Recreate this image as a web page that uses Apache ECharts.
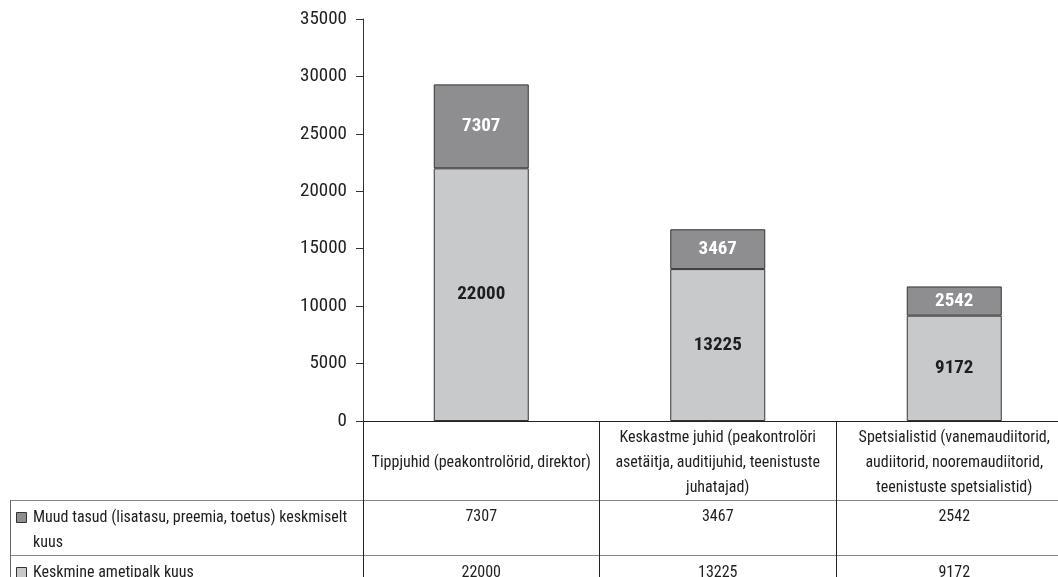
<!DOCTYPE html>
<html>
<head>
<meta charset="utf-8">
<script src="https://cdn.jsdelivr.net/npm/echarts@6/dist/echarts.min.js"></script>
<style>
  html, body { margin: 0; padding: 0; background: #fff; }
  #chart { width: 1058px; height: 577px; }
</style>
</head>
<body>
<div id="chart"></div>
<script>
// Ametikohtade rühmad (kategooriad)
const categories = [
  'Tippjuhid (peakontrolörid, direktor)',
  'Keskastme juhid (peakontrolöri\nasetäitja, auditijuhid, teenistuste\njuhatajad)',
  'Spetsialistid (vanemaudiitorid,\naudiitorid, nooremaudiitorid,\nteenistuste spetsialistid)'
];
// Keskmine ametipalk kuus
const baseSalary = [22000, 13225, 9172];
// Muud tasud (lisatasu, preemia, toetus) keskmiselt kuus
const otherPay = [7307, 3467, 2542];
const seriesNames = [
  'Keskmine ametipalk kuus',
  'Muud tasud (lisatasu, preemia, toetus) keskmiselt kuus'
];
const rowLabels = [
  'Muud tasud (lisatasu, preemia, toetus) keskmiselt\nkuus',
  'Keskmine ametipalk kuus'
];
const yTicks = { min: 0, max: 35000, step: 5000 };

const FONT = "'Roboto Condensed', 'DejaVu Sans Condensed', sans-serif";
const LIGHT = '#c8c9cb';
const DARK = '#8e8e91';
const INK = '#1e1e1e';

const chart = echarts.init(document.getElementById('chart'));

// Andmetabeli väärtuste rida: kategooriatelg, mille sildid on rea väärtused
function valueRowAxis(values, offset) {
  return {
    type: 'category',
    data: categories,
    gridIndex: 0,
    position: 'bottom',
    offset: offset,
    axisLine: { show: false },
    axisTick: { show: false },
    axisLabel: {
      interval: 0,
      margin: 0,
      verticalAlign: 'middle',
      fontFamily: FONT,
      fontSize: 16,
      color: INK,
      formatter: (v, i) => String(values[i])
    }
  };
}

const option = {
  animation: false,
  backgroundColor: '#fff',
  textStyle: { fontFamily: FONT },
  grid: {
    left: 363, top: 19, width: 709.5, height: 402,
    containLabel: false, outerBoundsMode: 'none'
  },
  xAxis: [
    {
      type: 'category',
      data: categories,
      axisLine: { lineStyle: { color: '#222', width: 1 } },
      axisTick: { show: true, length: 160, lineStyle: { color: '#222' } },
      axisLabel: {
        interval: 0,
        margin: 42,
        verticalAlign: 'middle',
        lineHeight: 25,
        fontFamily: FONT,
        fontSize: 16,
        color: INK
      }
    },
    valueRowAxis(otherPay, 96),
    valueRowAxis(baseSalary, 152)
  ],
  yAxis: {
    type: 'value',
    min: yTicks.min,
    max: yTicks.max,
    interval: yTicks.step,
    axisLine: { show: true, lineStyle: { color: '#333' } },
    axisTick: { show: true, length: 7, lineStyle: { color: '#333' } },
    splitLine: { show: false },
    axisLabel: {
      fontFamily: FONT, fontSize: 19, color: INK, margin: 16,
      formatter: v => String(v)
    }
  },
  series: [
    {
      name: seriesNames[0],
      type: 'bar',
      stack: 'kokku',
      barWidth: 95,
      data: baseSalary,
      itemStyle: { color: LIGHT, borderColor: '#333', borderWidth: 1 },
      label: {
        show: true, position: 'inside',
        fontFamily: FONT, fontSize: 19, fontWeight: 'bold', color: INK
      }
    },
    {
      name: seriesNames[1],
      type: 'bar',
      stack: 'kokku',
      barWidth: 95,
      data: otherPay,
      itemStyle: { color: DARK, borderColor: '#333', borderWidth: 1 },
      label: {
        show: true, position: 'inside',
        fontFamily: FONT, fontSize: 19, fontWeight: 'bold', color: '#fff'
      }
    }
  ],
  graphic: [
    // andmetabeli horisontaaljooned ja vasak serv
    { type: 'line', shape: { x1: 10, y1: 500.5, x2: 1058, y2: 500.5 }, style: { stroke: '#888', lineWidth: 1 } },
    { type: 'line', shape: { x1: 10, y1: 555.5, x2: 1058, y2: 555.5 }, style: { stroke: '#888', lineWidth: 1 } },
    { type: 'line', shape: { x1: 10.5, y1: 500, x2: 10.5, y2: 577 }, style: { stroke: '#666', lineWidth: 1 } },
    // ridade pealkirjad koos legendi ruutudega
    { type: 'rect', shape: { x: 16.5, y: 512.5, width: 10, height: 10 }, style: { fill: DARK, stroke: '#333', lineWidth: 1 } },
    { type: 'text', left: 33, top: 505, style: {
        text: rowLabels[0], font: '16px ' + FONT, fill: INK, lineHeight: 25 } },
    { type: 'rect', shape: { x: 16.5, y: 567.5, width: 10, height: 10 }, style: { fill: LIGHT, stroke: '#333', lineWidth: 1 } },
    { type: 'text', left: 33, top: 560, style: {
        text: rowLabels[1], font: '16px ' + FONT, fill: INK, lineHeight: 25 } }
  ]
};

chart.setOption(option);
</script>
</body>
</html>
